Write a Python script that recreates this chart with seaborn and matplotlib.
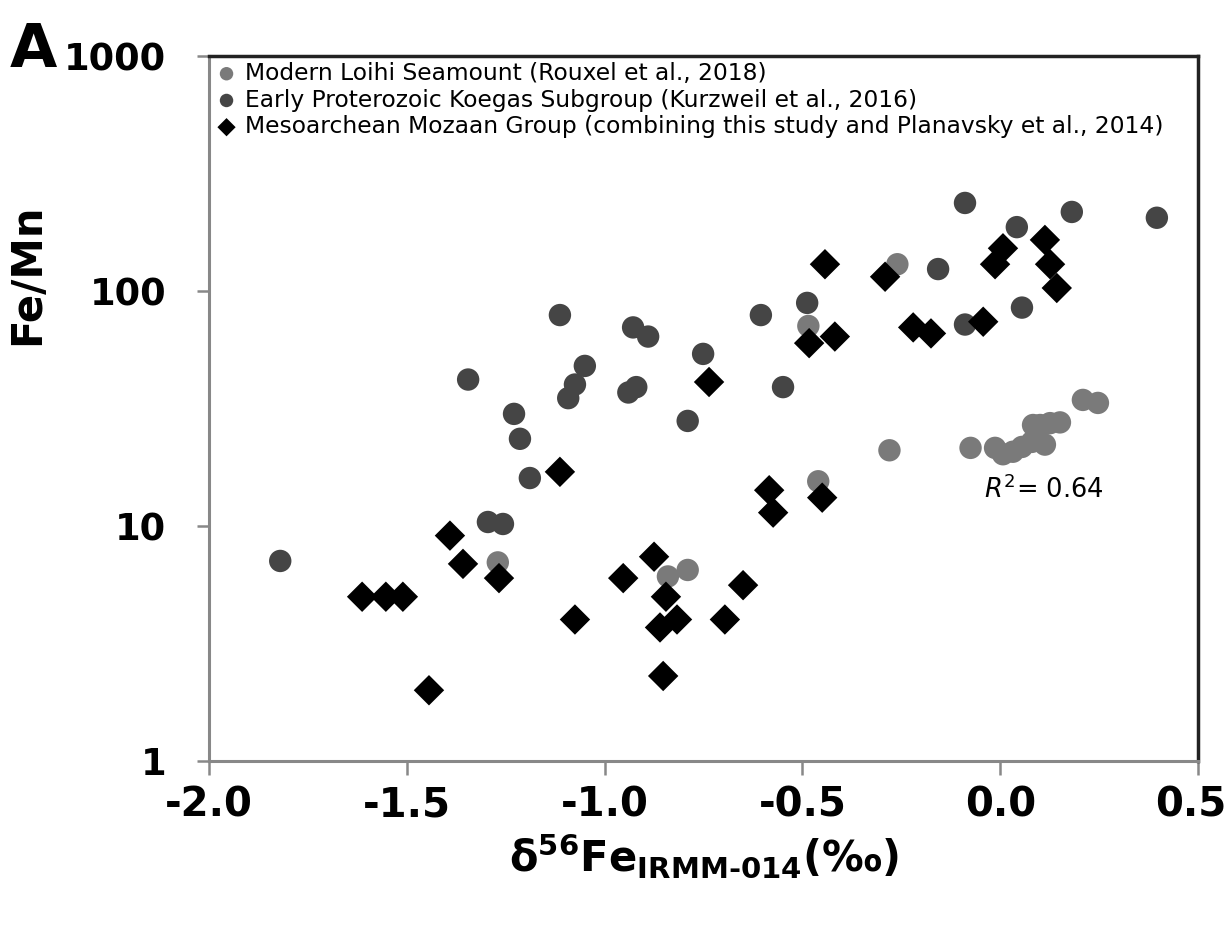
import matplotlib
matplotlib.use("Agg")
import matplotlib.pyplot as plt
import matplotlib.transforms as mtransforms
import seaborn as sns
import numpy as np
import pandas as pd
from matplotlib.ticker import FixedLocator, NullLocator

# ---- data ----
loihi_x = [-1.27, -0.84, -0.79, -0.46, -0.485, -0.28, -0.26, -0.075, -0.013, 0.007, 0.032,
           0.055, 0.08, 0.113, 0.083, 0.101, 0.126, 0.151, 0.209, 0.247]
loihi_y = [7.0, 6.1, 6.5, 15.5, 71, 21, 130, 21.5, 21.5, 20.2, 20.7,
           21.7, 22.8, 22.2, 26.9, 26.9, 27.4, 27.6, 34.4, 33.4]

koegas_x = [-1.82, -1.345, -1.295, -1.257, -1.229, -1.214, -1.189, -1.113, -1.092, -1.075,
            -1.05, -0.94, -0.92, -0.928, -0.89, -0.79, -0.751, -0.605, -0.549, -0.488,
            -0.157, -0.089, -0.089, 0.042, 0.055, 0.181, 0.396]
koegas_y = [7.1, 42, 10.4, 10.2, 30, 23.5, 16, 79, 35, 40,
            48, 37, 39, 70, 64, 28, 54, 79, 39, 89,
            124, 237, 72, 187, 85, 217, 205]

mozaan_x = [-1.613, -1.553, -1.51, -1.444, -1.391, -1.358, -1.267, -1.113, -1.075, -0.953,
            -0.875, -0.845, -0.86, -0.817, -0.852, -0.736, -0.696, -0.65, -0.584, -0.574,
            -0.45, -0.483, -0.418, -0.443, -0.291, -0.22, -0.175, -0.043, -0.013, 0.007,
            0.113, 0.126, 0.143]
mozaan_y = [5, 5, 5, 2, 9.1, 6.9, 6, 17, 4, 6,
            7.4, 5, 3.7, 4, 2.3, 41, 4, 5.6, 14.2, 11.4,
            13.2, 60, 64, 130, 115, 70, 66, 74, 130, 152,
            165, 130, 103]

labels = ["Modern Loihi Seamount (Rouxel et al., 2018)",
          "Early Proterozoic Koegas Subgroup (Kurzweil et al., 2016)",
          "Mesoarchean Mozaan Group (combining this study and Planavsky et al., 2014)"]

x_ticks = [-2.0, -1.5, -1.0, -0.5, 0.0, 0.5]
x_ticklabels = ["-2.0", "-1.5", "-1.0", "-0.5", "0.0", "0.5"]
y_ticks = [1, 10, 100, 1000]
y_ticklabels = ["1", "10", "100", "1000"]

# ---- plot ----
sns.set_theme(style="white")
plt.rcParams['font.family'] = ['DejaVu Sans']
plt.rcParams['mathtext.fontset'] = 'dejavusans'
plt.rcParams['text.color'] = 'black'
plt.rcParams['axes.labelcolor'] = 'black'

fig = plt.figure(figsize=(12.31, 9.26), dpi=100)
ax = fig.add_axes([0.1698, 0.1782, 0.9732 - 0.1698, 0.9395 - 0.1782])

sns.scatterplot(x=loihi_x, y=loihi_y, ax=ax, color="#7a7a7a", marker="o", s=260,
                edgecolor="none", linewidth=0, label=labels[0], zorder=3)
sns.scatterplot(x=koegas_x, y=koegas_y, ax=ax, color="#454545", marker="o", s=260,
                edgecolor="none", linewidth=0, label=labels[1], zorder=3)
sns.scatterplot(x=mozaan_x, y=mozaan_y, ax=ax, color="#000000", marker="D", s=240,
                edgecolor="none", linewidth=0, label=labels[2], zorder=4)

ax.set_yscale("log")
ax.set_xlim(-2.0, 0.5)
ax.set_ylim(1, 1000)
ax.xaxis.set_major_locator(FixedLocator(x_ticks))
ax.set_xticklabels(x_ticklabels)
ax.yaxis.set_major_locator(FixedLocator(y_ticks))
ax.yaxis.set_minor_locator(NullLocator())
ax.set_yticklabels(y_ticklabels)

for lab in ax.get_xticklabels():
    lab.set_fontweight("bold")
    lab.set_fontsize(29)
    lab.set_color("black")
for lab in ax.get_yticklabels():
    lab.set_fontweight("bold")
    lab.set_fontsize(26.5)
    lab.set_color("black")

ax.tick_params(axis="x", which="major", direction="out", length=10, width=1.8,
               color="#888888", pad=8, bottom=True)
ax.tick_params(axis="y", which="major", direction="out", length=9, width=1.8,
               color="#888888", pad=22, left=True)

# nudge last x tick label so it stays within the figure
last = ax.get_xticklabels()[-1]
last.set_transform(last.get_transform() +
                   mtransforms.ScaledTranslation(-7 / 100, 0, fig.dpi_scale_trans))

for side in ["left", "bottom"]:
    ax.spines[side].set_color("#888888")
    ax.spines[side].set_linewidth(2.2)
for side in ["top", "right"]:
    ax.spines[side].set_color("#222222")
    ax.spines[side].set_linewidth(2.5)

ax.set_ylabel("Fe/Mn", fontsize=30, fontweight="bold")
ax.yaxis.set_label_coords(-0.163, 0.69)
ax.set_xlabel("δ$^{\\mathbf{56}}$Fe$_{\\mathbf{IRMM‐014}}$(‰)",
              fontsize=30, fontweight="bold", labelpad=4)

ax.text(-0.04, 14.2, r"$R^2$= 0.64", fontsize=18.5, ha="left", va="center")

fig.text(0.008, 0.945, "A", fontsize=44, fontweight="bold", ha="left", va="center",
         color="black")

leg = ax.legend(loc="upper left", frameon=False, fontsize=16.8, markerscale=0.6,
                handletextpad=0.3, borderaxespad=0.05, labelspacing=0.16,
                handlelength=1.0, borderpad=0.2)
for t in leg.get_texts():
    t.set_color("black")

fig.savefig("out.png", dpi=100)
